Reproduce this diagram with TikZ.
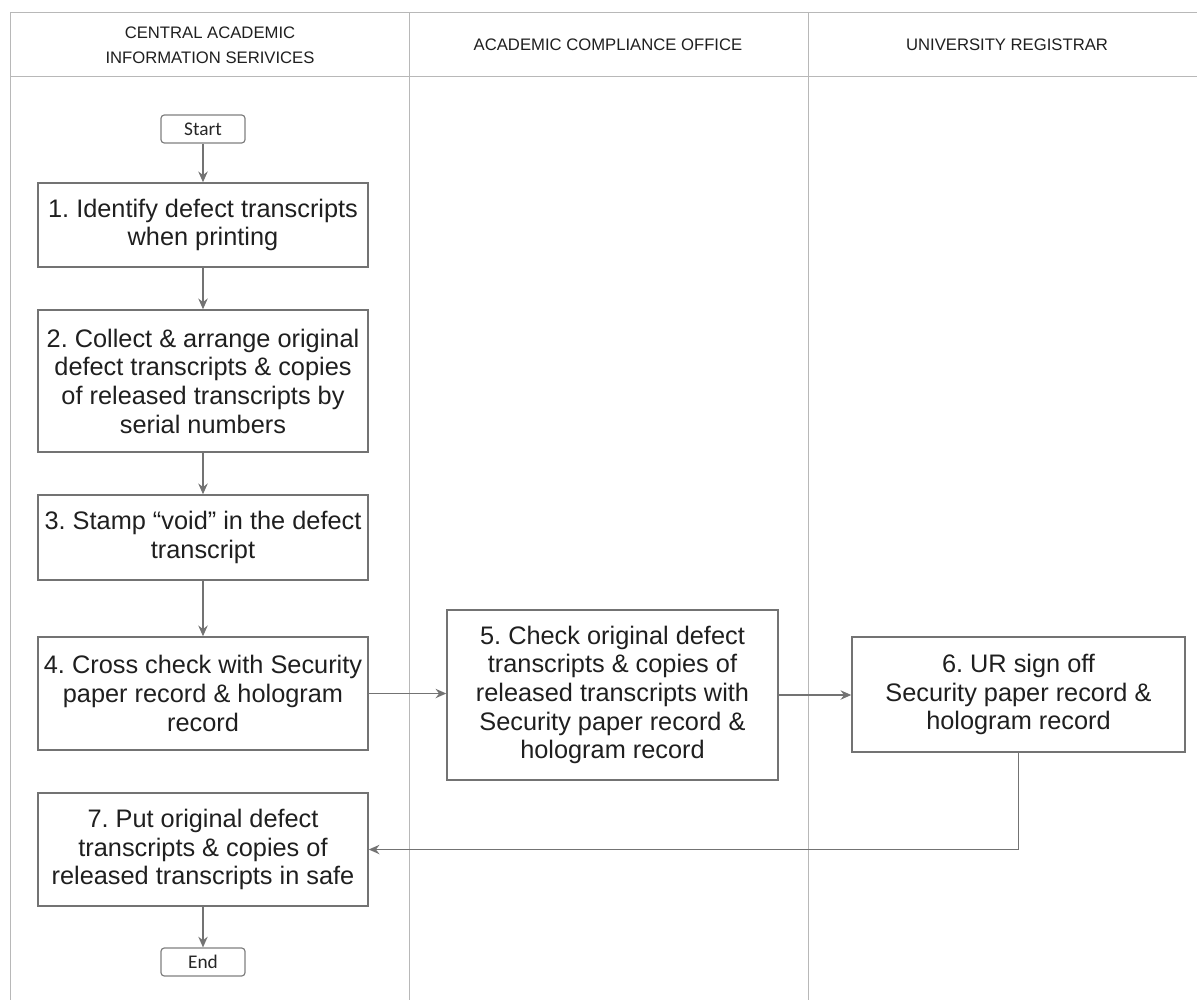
\documentclass[tikz,border=0pt]{standalone}
\usepackage{fontspec}
\setmainfont{Liberation Sans}
\newfontfamily\termfont{Carlito}
\usetikzlibrary{arrows.meta}
\frenchspacing

\begin{document}
\begin{tikzpicture}[x=0.75pt,y=0.75pt,yscale=-1,xscale=1,
  lane/.style={draw=black!28, line width=0.7pt},
  lanehead/.style={align=center, text=black!88, font=\fontsize{12.5}{18.5}\selectfont},
  stepbox/.style={draw=black!55, line width=1.1pt, align=center, inner sep=0pt, text=black!88,
    font=\fontsize{19}{21.5}\selectfont, minimum width=247.5pt},
  termbox/.style={draw=black!50, line width=0.9pt, rounded corners=2.5pt, inner sep=0pt,
    minimum width=63pt, minimum height=21pt, text=black!85, font=\termfont\fontsize{14.5}{16}\selectfont},
  flow/.style={draw=black!55, line width=1.1pt, -{Stealth[length=8pt,width=7pt]}}]
\useasboundingbox (0,0) rectangle (1197,1000);

%Lanes
\draw[lane] (10,12) -- (1197,12) ;
\draw[lane] (10,76) -- (1197,76) ;
\draw[lane] (10,12) -- (10,1000) ;
\draw[lane] (409,12) -- (409,1000) ;
\draw[lane] (808,12) -- (808,1000) ;

% Text Node
\node[lanehead] (cais) at (210,45) {CENTRAL ACADEMIC\\INFORMATION SERIVICES};
% Text Node
\node[lanehead] (aco) at (608,45) {ACADEMIC COMPLIANCE OFFICE};
% Text Node
\node[lanehead] (ur) at (1007,45) {UNIVERSITY REGISTRAR};

%Shape: Rounded Rect
\node[termbox] (start) at (203,129) {Start};
%Shape: Rectangle
\node[stepbox, minimum height=63pt] (s1) at (203,225) {1. Identify defect transcripts\\when printing};
%Shape: Rectangle
\node[stepbox, minimum height=106.5pt] (s2) at (203,381) {2. Collect \& arrange original\\defect transcripts \& copies\\of released transcripts by\\serial numbers};
%Shape: Rectangle
\node[stepbox, minimum height=63.75pt] (s3) at (203,537.5) {3. Stamp “void” in the defect\\transcript};
%Shape: Rectangle
\node[stepbox, minimum height=84.75pt] (s4) at (203,693.5) {4. Cross check with Security\\paper record \& hologram\\record};
%Shape: Rectangle
\node[stepbox, minimum height=84.75pt] (s7) at (203,849.5) {7. Put original defect\\transcripts \& copies of\\released transcripts in safe};
%Shape: Rounded Rect
\node[termbox] (end) at (203,962) {End};
%Shape: Rectangle
\node[stepbox, minimum width=248.25pt, minimum height=127.5pt] (s5) at (612.5,695) {5. Check original defect\\transcripts \& copies of\\released transcripts with\\Security paper record \&\\hologram record};
%Shape: Rectangle
\node[stepbox, minimum width=249.75pt, minimum height=86.25pt] (s6) at (1018.5,694.5) {6. UR sign off\\Security paper record \&\\hologram record};

%Connectors
\draw[flow] (start) -- (s1) ;
\draw[flow] (s1) -- (s2) ;
\draw[flow] (s2) -- (s3) ;
\draw[flow] (s3) -- (s4) ;
\draw[flow] (s4.east) -- (s4.east -| s5.west) ;
\draw[flow] (s5.east) -- (s5.east -| s6.west) ;
\draw[flow] (s6.south) |- (s7.east) ;
\draw[flow] (s7) -- (end) ;

\end{tikzpicture}
\end{document}
